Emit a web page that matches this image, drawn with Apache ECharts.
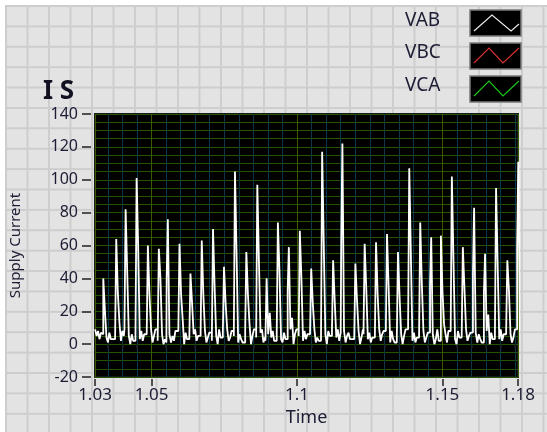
<!DOCTYPE html>
<html>
<head>
<meta charset="utf-8">
<script src="https://cdn.jsdelivr.net/npm/echarts@6/dist/echarts.min.js"></script>
<style>
  html, body { margin: 0; padding: 0; background: #fff; }
  #panel {
    position: absolute; left: 0; top: 0; width: 547px; height: 432px;
    background-color: #fff;
  }
  #grid {
    position: absolute; left: 5px; top: 5px; width: 542px; height: 427px;
    background-color: #e3e3e3;
    background-image:
      linear-gradient(to right, #cdcdcd 2px, transparent 2px),
      linear-gradient(to bottom, #cdcdcd 2px, transparent 2px);
    background-size: 21.5px 20.4px;
    background-position: 0 0;
  }
  #chart { position: absolute; left: 0; top: 0; width: 547px; height: 432px; }
</style>
</head>
<body>
<div id="panel"><div id="grid"></div></div>
<div id="chart"></div>
<script>
// waveform IS (VAB trace) - spikes
var leadTime = [1.0306, 1.0311, 1.0316, 1.0321, 1.0326]
var leadVal = [9, 5, 8, 3, 7]

var spikeTime = [1.0334, 1.03786, 1.04108, 1.04486, 1.04873, 1.0525, 1.05559, 1.0596, 1.06337, 1.06725,
  1.07112, 1.0749, 1.07867, 1.08258, 1.08635, 1.08954, 1.09342, 1.09719, 1.10096, 1.10487,
  1.10864, 1.11241, 1.1156, 1.12006, 1.12325, 1.12716, 1.13093, 1.1347, 1.13858, 1.14235,
  1.14612, 1.14945, 1.15322, 1.157, 1.16087, 1.16464, 1.16842, 1.17229, 1.17606]
var spikePre = [6, 3, 9, 4, 7, 2, 40, 8, 3, 6, 2, 7, 5, 8, 4, 2, 6, 33, 5, 7,
  3, 8, 62, 2, 6, 4, 7, 3, 9, 5, 36, 2, 7, 4, 42, 31, 5, 8, 58]
var spikePeak = [40, 64, 82, 101, 60, 58, 76, 61, 43, 63, 70, 47, 105, 56, 97, 40, 74, 59, 69, 46,
  117, 51, 122, 49, 61, 62, 67, 56, 107, 74, 65, 66, 102, 59, 83, 55, 95, 51, 111]
var spikePost = [21, 31, 44, 58, 30, 40, 6, 30, 25, 30, 35, 25, 55, 30, 51, 6, 44, 9, 40, 25,
  61, 26, 8, 27, 34, 30, 35, 29, 55, 37, 6, 32, 52, 34, 7, 8, 48, 33, 9]
var spikeTail = [4, 13, 5, 3, 9, 6, 1, 15, 6, 8, 5, 9, 1, 12, 7, 19, 3, 16, 2, 9,
  6, 4, 1, 8, 3, 9, 1, 6, 2, 8, 0, 12, 3, 9, 1, 18, 3, 6, 3]
var gapA = [1, 2, 0, 8, 1, 0, 5, 0, 9, 1, 0, 2, 6, 0, 9, 4, 1, 0, 8, 1,
  0, 9, 5, 0, 7, 2, 8, 0, 7, 1, 3, 6, 0, 2, 6, 0, 9, 1, 5]
var gapB = [7, 8, 6, 2, 5, 3, 2, 7, 2, 4, 9, 4, 3, 5, 1, 8, 7, 6, 3, 4,
  8, 2, 7, 4, 1, 6, 3, 5, 1, 4, 9, 1, 8, 5, 3, 7, 2, 4, 6]
var gapC = [3, 5, 2, 6, 9, 1, 8, 3, 5, 7, 4, 8, 1, 9, 4, 2, 3, 9, 6, 2,
  5, 7, 3, 9, 4, 8, 1, 9, 4, 7, 2, 8, 4, 7, 1, 3, 6, 9, 4]

var yTicks = [-20, 0, 20, 40, 60, 80, 100, 120, 140]
var xLabelValues = [1.030556, 1.05, 1.1, 1.15, 1.17596]
var xLabelText = ['1.03', '1.05', '1.1', '1.15', '1.18']
var xMinorTicks = [1.035, 1.04, 1.045, 1.055, 1.06, 1.065, 1.07, 1.075, 1.08, 1.085, 1.09, 1.095,
  1.105, 1.11, 1.115, 1.12, 1.125, 1.13, 1.135, 1.14, 1.145, 1.155, 1.16, 1.165, 1.17, 1.175]

// sample positions around each spike
var data = []
for (var k = 0; k < leadTime.length; k++) data.push([leadTime[k], leadVal[k]])
for (var i = 0; i < spikeTime.length; i++) {
  var t = spikeTime[i]
  data.push([t - 0.0004, spikePre[i]])
  data.push([t, spikePeak[i]])
  data.push([t + 0.00055, spikePost[i]])
  data.push([t + 0.0011, spikeTail[i]])
  data.push([t + 0.0016, gapA[i]])
  data.push([t + 0.0021, gapB[i]])
  data.push([t + 0.0026, gapC[i]])
}

var txt = '#1c1c34'
var font = 'Noto Sans'
var chart = echarts.init(document.getElementById('chart'))
chart.setOption({
  backgroundColor: 'transparent',
  animation: false,
  grid: {
    left: 94, right: 29, top: 114, bottom: 55,
    show: true, backgroundColor: '#000', borderColor: '#1a1a1a', borderWidth: 2
  },
  xAxis: [{
    type: 'value', min: xLabelValues[0], max: xLabelValues[4],
    position: 'bottom', offset: 2,
    axisLine: { show: false },
    axisTick: { show: true, customValues: xMinorTicks, length: 4, lineStyle: { color: '#222', width: 1.5 } },
    axisLabel: { show: false },
    splitLine: { show: true, lineStyle: { color: '#0b3848', width: 1 } }
  }, {
    type: 'value', min: xLabelValues[0], max: xLabelValues[4],
    position: 'bottom', offset: 2,
    name: 'Time', nameLocation: 'middle', nameGap: 29,
    nameTextStyle: { fontFamily: font, fontSize: 18, color: txt },
    axisLine: { show: false },
    axisTick: { show: true, customValues: xLabelValues, length: 7, lineStyle: { color: '#222', width: 1.5 } },
    axisLabel: {
      customValues: xLabelValues, margin: 8,
      fontFamily: font, fontSize: 17, color: txt,
      formatter: function (v) {
        var idx = xLabelValues.indexOf(v)
        return idx >= 0 ? xLabelText[idx] : ''
      }
    },
    splitLine: { show: true, lineStyle: { color: '#3e5a00', width: 1 } }
  }],
  yAxis: {
    type: 'value', min: yTicks[0], max: yTicks[yTicks.length - 1], interval: 20,
    offset: 4,
    name: 'Supply Current', nameLocation: 'middle', nameGap: 68, nameRotate: 90,
    nameTextStyle: { fontFamily: font, fontSize: 15, color: txt },
    axisLine: { show: false },
    axisTick: { show: true, length: 9, lineStyle: { color: '#222', width: 1.5 } },
    axisLabel: { margin: 13, fontFamily: font, fontSize: 16, color: txt },
    splitLine: { show: true, lineStyle: { color: '#235500', width: 1 } },
    minorTick: { show: false, splitNumber: 4 },
    minorSplitLine: { show: true, lineStyle: { color: '#235500', width: 1 } }
  },
  series: [{
    name: 'VAB', type: 'line', data: data, step: 'end',
    showSymbol: false, clip: true,
    lineStyle: { color: '#ffffff', width: 1.8 }
  }],
  graphic: [
    { type: 'text', left: 43, top: 79, style: { text: 'I S', font: 'bold 26px "Noto Sans"', fill: '#111122' } },
    { type: 'text', left: 405, top: 11, style: { text: 'VAB', font: '19px "Noto Sans"', fill: txt } },
    { type: 'text', left: 405, top: 43, style: { text: 'VBC', font: '19px "Noto Sans"', fill: txt } },
    { type: 'text', left: 405, top: 76, style: { text: 'VCA', font: '19px "Noto Sans"', fill: txt } },
    { type: 'rect', shape: { x: 470, y: 10, width: 51, height: 26 }, style: { fill: '#000', stroke: '#7a7a7a', lineWidth: 1.5 } },
    { type: 'rect', shape: { x: 470, y: 43, width: 51, height: 26 }, style: { fill: '#000', stroke: '#7a7a7a', lineWidth: 1.5 } },
    { type: 'rect', shape: { x: 470, y: 76, width: 51, height: 26 }, style: { fill: '#000', stroke: '#7a7a7a', lineWidth: 1.5 } },
    { type: 'polyline', shape: { points: [[474, 31], [492, 15], [511, 31], [519, 24]] }, style: { stroke: '#e8e8e8', lineWidth: 1.2, fill: null } },
    { type: 'polyline', shape: { points: [[474, 63], [489, 48], [503, 63], [519, 48]] }, style: { stroke: '#d83030', lineWidth: 1.2, fill: null } },
    { type: 'polyline', shape: { points: [[474, 96], [489, 81], [503, 96], [519, 81]] }, style: { stroke: '#18c818', lineWidth: 1.2, fill: null } }
  ]
})
</script>
</body>
</html>
